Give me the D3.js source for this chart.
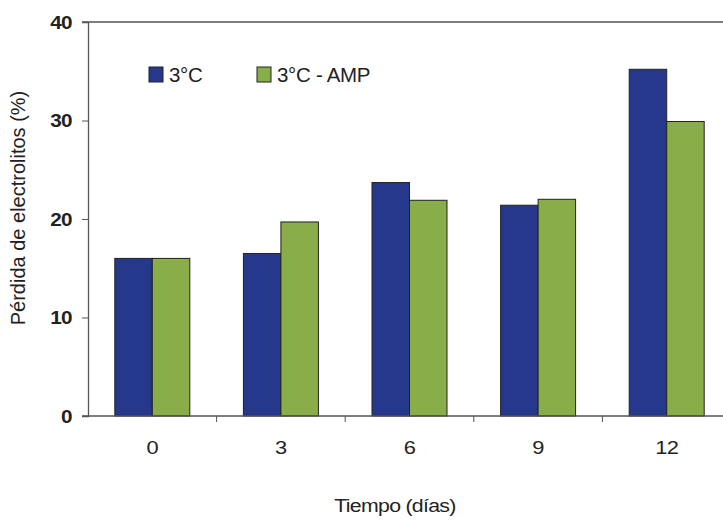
<!DOCTYPE html>
<html><head><meta charset="utf-8">
<script src="https://cdn.jsdelivr.net/npm/d3@7"></script>
<style>
body{margin:0;background:#fff;}
svg{display:block;font-family:"Liberation Sans",Arial,sans-serif;}
</style></head>
<body>
<script>
// Días de almacenamiento y pérdida de electrolitos (%) por tratamiento
const days = ["0", "3", "6", "9", "12"];
const series = ["3°C", "3°C - AMP"];
const valuesControl = [16.0, 16.5, 23.7, 21.4, 35.2];
const valuesAMP = [16.0, 19.7, 21.9, 22.0, 29.9];
const yTicks = [0, 10, 20, 30, 40];
const colors = ["#26388c", "#89ad49"];

const W = 723, H = 524;
const m = {left: 88, top: 22, bottom: 108};
const plotW = 643; // five categories; the last one runs past the page edge
const innerH = H - m.top - m.bottom;
const SX = 1.15; // wide lettering for axis labels

const svg = d3.select("body").append("svg").attr("width", W).attr("height", H);
const g = svg.append("g").attr("transform", `translate(${m.left},${m.top})`);

const x = d3.scaleBand().domain(days).range([0, plotW]);
const xs = d3.scaleBand().domain(series).range([0, x.bandwidth()]).paddingOuter(0.715).paddingInner(0);
const y = d3.scaleLinear().domain([0, 40]).range([innerH, 0]);

// top frame line
g.append("line").attr("x1", -6).attr("x2", W).attr("y1", 0).attr("y2", 0)
  .attr("stroke", "#555").attr("stroke-width", 1.3);

// bars
const data = days.map((d, i) => ({day: d, vals: [valuesControl[i], valuesAMP[i]]}));
const grp = g.selectAll("g.grp").data(data).join("g")
  .attr("transform", d => `translate(${x(d.day)},0)`);
grp.selectAll("rect").data(d => d.vals.map((v, j) => ({s: series[j], v, j}))).join("rect")
  .attr("x", d => xs(d.s))
  .attr("width", xs.bandwidth())
  .attr("y", d => y(d.v))
  .attr("height", d => innerH - y(d.v))
  .attr("fill", d => colors[d.j])
  .attr("stroke", "#222").attr("stroke-width", 1);

// y axis
const yAxis = g.append("g").call(d3.axisLeft(y).tickValues(yTicks).tickSize(6).tickFormat(() => ""));
yAxis.select(".domain").attr("stroke", "#555").attr("stroke-width", 1.3);
yAxis.selectAll(".tick line").attr("stroke", "#555");
yAxis.selectAll(".tick").append("text")
  .attr("transform", `translate(-16,0) scale(${SX},1)`)
  .attr("dy", "0.35em").attr("text-anchor", "end")
  .attr("font-size", 18).attr("font-weight", "bold").attr("fill", "#222")
  .attr("letter-spacing", -0.5)
  .text(d => d);

// x axis: ticks sit between categories
const xAxisG = g.append("g").attr("transform", `translate(0,${innerH})`);
xAxisG.append("line").attr("x1", -6).attr("x2", W).attr("stroke", "#555").attr("stroke-width", 1.3);
xAxisG.selectAll("line.tk").data(days.slice(1)).join("line").attr("class", "tk")
  .attr("x1", d => x(d)).attr("x2", d => x(d)).attr("y1", 0).attr("y2", 6)
  .attr("stroke", "#555");
xAxisG.selectAll("text").data(days).join("text")
  .attr("transform", d => `translate(${x(d) + x.bandwidth() / 2},38) scale(${SX},1)`)
  .attr("text-anchor", "middle").attr("font-size", 19).attr("fill", "#222")
  .attr("letter-spacing", -0.5)
  .text(d => d);

// axis titles
svg.append("text").attr("transform", `translate(395,512) scale(${SX},1)`).attr("text-anchor", "middle")
  .attr("font-size", 18.5).attr("fill", "#222").attr("letter-spacing", -0.6).text("Tiempo (días)");
svg.append("text").attr("transform", "translate(25,208) rotate(-90)").attr("text-anchor", "middle")
  .attr("font-size", 20).attr("fill", "#222").text("Pérdida de electrolitos (%)");

// legend
const legendX = [149, 257];
const lg = svg.selectAll("g.lg").data(series).join("g")
  .attr("transform", (d, i) => `translate(${legendX[i]},67)`);
lg.append("rect").attr("width", 14).attr("height", 15)
  .attr("fill", (d, i) => colors[i]).attr("stroke", "#222").attr("stroke-width", 1);
lg.append("text").attr("x", 20).attr("y", 15)
  .attr("font-size", 20.5).attr("fill", "#222").attr("letter-spacing", -0.3)
  .text(d => d);
</script>
</body></html>
